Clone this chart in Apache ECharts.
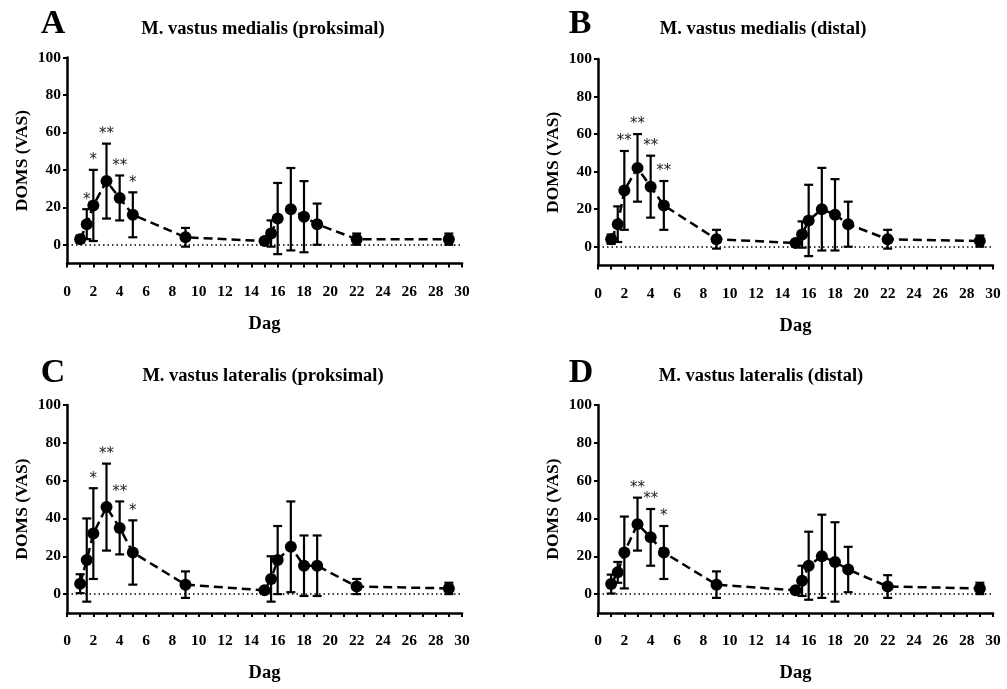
<!DOCTYPE html>
<html><head><meta charset="utf-8">
<script src="https://cdn.jsdelivr.net/npm/echarts@6/dist/echarts.min.js"></script>
<style>html,body{margin:0;padding:0;background:#fff}#c{width:1007px;height:689px}</style>
</head><body><div id="c"></div>
<script>
// ---- data ----
const days = [1, 1.5, 2, 3, 4, 5, 9, 15, 15.5, 16, 17, 18, 19, 22, 29];
const letters = ['A', 'B', 'C', 'D'];
const titles = ['M. vastus medialis (proksimal)', 'M. vastus medialis (distal)',
                'M. vastus lateralis (proksimal)', 'M. vastus lateralis (distal)'];
const meanA = [3, 11, 21, 34, 25, 16, 4, 2, 6, 14, 19, 15, 11, 3, 3];
const errA  = [2, 8, 19, 20, 12, 12, 5, 1, 7, 19, 22, 19, 11, 3, 3];
const starA = ['', '*', '*', '**', '**', '*', '', '', '', '', '', '', '', '', ''];
const meanB = [4, 12, 30, 42, 32, 22, 4, 2, 6.5, 14, 20, 17, 12, 4, 3];
const errB  = [2.5, 9.5, 21, 18, 16.5, 13, 5, 1, 7, 19, 22, 19, 12, 5, 3];
const starB = ['', '', '**', '**', '**', '**', '', '', '', '', '', '', '', '', ''];
const meanC = [5.5, 18, 32, 46, 35, 22, 5, 2, 8, 18, 25, 15, 15, 4, 3];
const errC  = [5, 22, 24, 23, 14, 17, 7, 1, 12, 18, 24, 16, 16, 4, 3];
const starC = ['', '', '*', '**', '**', '*', '', '', '', '', '', '', '', '', ''];
const meanD = [5.3, 11.5, 22, 37, 30, 22, 5, 2, 7, 15, 20, 17, 13, 4, 3];
const errD  = [5, 5.5, 19, 14, 15, 14, 7, 1, 8, 18, 22, 21, 12, 6, 3];
const starD = ['', '', '', '**', '**', '*', '', '', '', '', '', '', '', '', ''];
const yTicks = [0, 20, 40, 60, 80, 100];
const xLabelStep = 2;
const yName = 'DOMS (VAS)';
const xName = 'Dag';

// ---- layout ----
const panels = [
  {mean: meanA, err: errA, star: starA, grid: {left: 67, top: 57.5, width: 395, height: 206}, letter: [53, 24], title: [263, 29]},
  {mean: meanB, err: errB, star: starB, grid: {left: 598, top: 59, width: 395, height: 206.5}, letter: [580, 24], title: [763, 29]},
  {mean: meanC, err: errC, star: starC, grid: {left: 67, top: 405, width: 395, height: 208}, letter: [53, 373], title: [263, 376]},
  {mean: meanD, err: errD, star: starD, grid: {left: 598, top: 405, width: 395, height: 208}, letter: [581, 373], title: [761, 376]}
];
const FONT = '"Liberation Serif", "Times New Roman", serif';

const grid = [], xAxis = [], yAxis = [], series = [], graphic = [];
panels.forEach((p, i) => {
  grid.push(p.grid);
  xAxis.push({
    gridIndex: i, type: 'value', min: 0, max: 30, interval: 1,
    name: xName, nameLocation: 'middle', nameGap: 51,
    nameTextStyle: {fontFamily: FONT, fontWeight: 'bold', fontSize: 18.5, color: '#000'},
    axisLine: {onZero: false, lineStyle: {color: '#000', width: 2.5}},
    axisTick: {length: 4, lineStyle: {color: '#000', width: 2}},
    axisLabel: {margin: 20, fontFamily: FONT, fontWeight: 'bold', fontSize: 15.5, color: '#000',
      formatter: v => (v % xLabelStep === 0 ? String(v) : '')},
    splitLine: {show: false}
  });
  yAxis.push({
    gridIndex: i, type: 'value', min: -10, max: 100,
    name: yName, nameLocation: 'middle', nameGap: 36, nameRotate: 90,
    nameTextStyle: {fontFamily: FONT, fontWeight: 'bold', fontSize: 17.5, color: '#000'},
    axisLine: {show: true, lineStyle: {color: '#000', width: 2.5}},
    axisTick: {show: true, length: 4, customValues: yTicks, lineStyle: {color: '#000', width: 2}},
    axisLabel: {margin: 6, customValues: yTicks, fontFamily: FONT, fontWeight: 'bold', fontSize: 15.5, color: '#000'},
    splitLine: {show: false}
  });
  const pts = days.map((d, k) => [d, p.mean[k], p.err[k]]);
  series.push({
    type: 'custom', xAxisIndex: i, yAxisIndex: i, z: 3,
    data: pts,
    renderItem: (params, api) => {
      const x = api.value(0), y = api.value(1), e = api.value(2);
      const t = api.coord([x, y + e]), b = api.coord([x, y - e]);
      const w = 4.5;
      const st = {stroke: '#000', lineWidth: 2.2};
      const children = [
        {type: 'line', shape: {x1: t[0], y1: t[1], x2: b[0], y2: b[1]}, style: st},
        {type: 'line', shape: {x1: t[0] - w, y1: t[1], x2: t[0] + w, y2: t[1]}, style: st},
        {type: 'line', shape: {x1: b[0] - w, y1: b[1], x2: b[0] + w, y2: b[1]}, style: st}
      ];
      const s = p.star[params.dataIndex];
      if (s) children.push({type: 'text', style: {text: s, x: t[0], y: t[1] - 2, align: 'center', verticalAlign: 'bottom',
        fontFamily: '"DejaVu Sans", sans-serif', fontSize: 15, fill: '#222'}});
      return {type: 'group', children};
    }
  });
  series.push({
    type: 'line', xAxisIndex: i, yAxisIndex: i, z: 4,
    data: days.map((d, k) => [d, p.mean[k]]),
    symbol: 'circle', symbolSize: 12,
    itemStyle: {color: '#000'},
    lineStyle: {color: '#000', width: 2.5, type: [9, 5]},
    markLine: {silent: true, symbol: 'none', label: {show: false},
      lineStyle: {color: '#000', width: 1.5, type: [1.5, 3]},
      data: [[{coord: [0, 0]}, {coord: [30, 0]}]]}
  });
  graphic.push({type: 'text', x: p.letter[0], y: p.letter[1],
    style: {text: letters[i], align: 'center', verticalAlign: 'middle', fontFamily: FONT, fontWeight: 'bold', fontSize: 34, fill: '#000'}});
  graphic.push({type: 'text', x: p.title[0], y: p.title[1],
    style: {text: titles[i], align: 'center', verticalAlign: 'middle', fontFamily: FONT, fontWeight: 'bold', fontSize: 18.5, fill: '#000'}});
});

const chart = echarts.init(document.getElementById('c'), null, {renderer: 'canvas'});
chart.setOption({animation: false, backgroundColor: '#fff', grid, xAxis, yAxis, series, graphic});
</script></body></html>
